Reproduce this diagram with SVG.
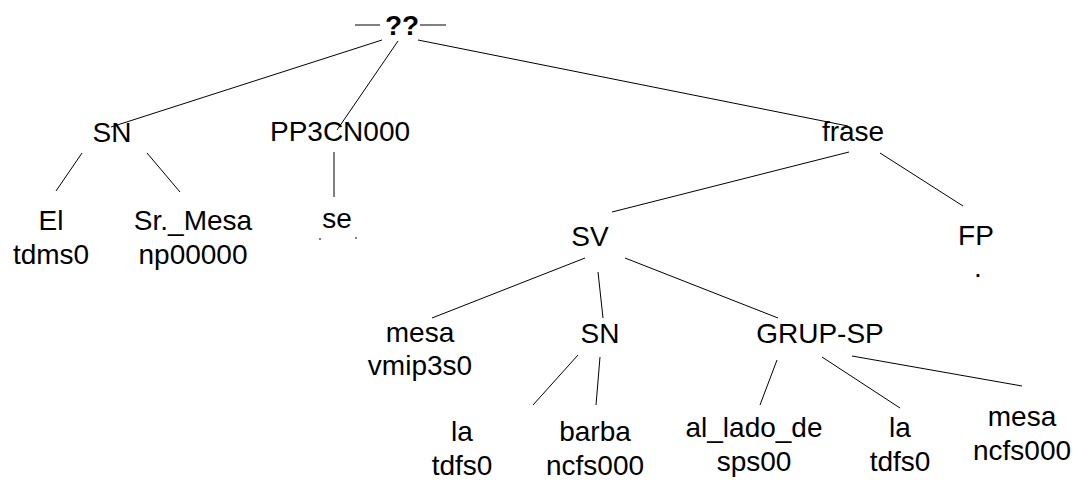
<svg xmlns="http://www.w3.org/2000/svg" width="1077" height="480" viewBox="0 0 1077 480">
<style>
text{font-family:"Liberation Sans",Arial,sans-serif;font-size:28px;fill:#000;text-anchor:middle}
.b{font-weight:bold}
line{stroke:#000;stroke-width:1}
</style>
<rect width="1077" height="480" fill="#fff"/>
<g id="connectors">
<line x1="355" y1="25" x2="380" y2="25"/>
<line x1="420" y1="25" x2="446" y2="25"/>
<line x1="382" y1="40" x2="111" y2="127"/>
<line x1="398" y1="41" x2="337" y2="130"/>
<line x1="418" y1="40" x2="848" y2="126"/>
<line x1="82" y1="153" x2="56" y2="191"/>
<line x1="147" y1="153" x2="180" y2="192"/>
<line x1="334" y1="152" x2="334" y2="197"/>
<line x1="849" y1="152" x2="612" y2="212"/>
<line x1="880" y1="153" x2="963" y2="206"/>
<line x1="585" y1="258" x2="432" y2="318"/>
<line x1="598" y1="272" x2="603" y2="318"/>
<line x1="625" y1="258" x2="778" y2="318"/>
<line x1="578" y1="355" x2="533" y2="405"/>
<line x1="600" y1="357" x2="596" y2="405"/>
<line x1="777" y1="360" x2="760" y2="405"/>
<line x1="822" y1="357" x2="900" y2="408"/>
<line x1="852" y1="356" x2="1022" y2="386"/>
<line x1="319" y1="239" x2="321" y2="239"/>
<line x1="355" y1="238" x2="357" y2="238"/>
</g>
<g id="root"><text class="b" x="402" y="35">??</text></g>
<g id="sn1"><text x="112" y="142">SN</text></g>
<g id="pp"><text x="340" y="141">PP3CN000</text></g>
<g id="frase"><text x="853" y="141">frase</text></g>
<g id="el"><text x="51" y="230">El</text><text x="51" y="264">tdms0</text></g>
<g id="srmesa"><text x="193" y="230">Sr._Mesa</text><text x="193" y="264">np00000</text></g>
<g id="se"><text x="337" y="228">se</text></g>
<g id="sv"><text x="590" y="246">SV</text></g>
<g id="fp"><text x="976" y="245">FP</text><text x="978" y="277">.</text></g>
<g id="mesa1"><text x="420" y="342">mesa</text><text x="420" y="375">vmip3s0</text></g>
<g id="sn2"><text x="600" y="343">SN</text></g>
<g id="grupsp"><text x="820" y="343">GRUP-SP</text></g>
<g id="la1"><text x="462" y="441">la</text><text x="462" y="475">tdfs0</text></g>
<g id="barba"><text x="595" y="441">barba</text><text x="595" y="475">ncfs000</text></g>
<g id="allado"><text x="754" y="437">al_lado_de</text><text x="754" y="471">sps00</text></g>
<g id="la2"><text x="900" y="437">la</text><text x="900" y="471">tdfs0</text></g>
<g id="mesa2"><text x="1022" y="426">mesa</text><text x="1022" y="460">ncfs000</text></g>
</svg>
